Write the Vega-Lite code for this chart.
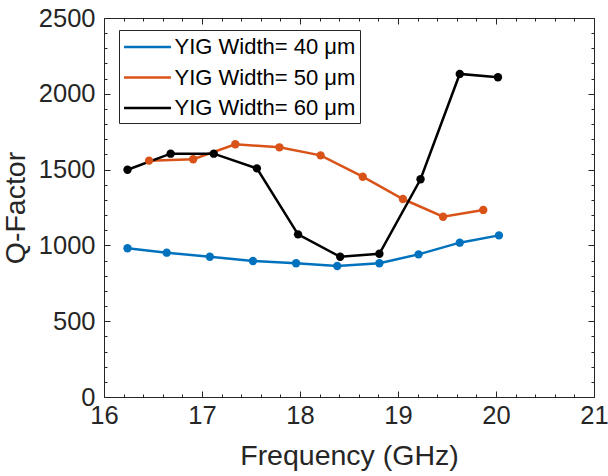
{
  "$schema": "https://vega.github.io/schema/vega-lite/v6.json",
  "width": 490,
  "height": 379,
  "autosize": {"type": "none"},
  "padding": {"left": 104, "top": 18, "right": 14, "bottom": 79},
  "background": "white",
  "config": {
    "view": {"stroke": null},
    "font": "Liberation Sans",
    "axis": {
      "grid": false,
      "domainColor": "#262626",
      "tickColor": "#262626",
      "labelColor": "#262626",
      "titleColor": "#262626",
      "labelFont": "Liberation Sans",
      "titleFont": "Liberation Sans",
      "titleFontWeight": "normal",
      "labelFontSize": 25.5,
      "titleFontSize": 28.5
    },
    "legend": {"labelFont": "Liberation Sans"}
  },
  "data": {
    "values": [
      {"f": 16.24, "q": 981, "s": "YIG Width= 40 μm"},
      {"f": 16.64, "q": 952, "s": "YIG Width= 40 μm"},
      {"f": 17.08, "q": 925, "s": "YIG Width= 40 μm"},
      {"f": 17.52, "q": 897, "s": "YIG Width= 40 μm"},
      {"f": 17.96, "q": 882, "s": "YIG Width= 40 μm"},
      {"f": 18.38, "q": 864, "s": "YIG Width= 40 μm"},
      {"f": 18.81, "q": 882, "s": "YIG Width= 40 μm"},
      {"f": 19.21, "q": 941, "s": "YIG Width= 40 μm"},
      {"f": 19.63, "q": 1018, "s": "YIG Width= 40 μm"},
      {"f": 20.03, "q": 1066, "s": "YIG Width= 40 μm"},
      {"f": 16.46, "q": 1559, "s": "YIG Width= 50 μm"},
      {"f": 16.91, "q": 1568, "s": "YIG Width= 50 μm"},
      {"f": 17.34, "q": 1667, "s": "YIG Width= 50 μm"},
      {"f": 17.79, "q": 1647, "s": "YIG Width= 50 μm"},
      {"f": 18.21, "q": 1594, "s": "YIG Width= 50 μm"},
      {"f": 18.64, "q": 1453, "s": "YIG Width= 50 μm"},
      {"f": 19.05, "q": 1306, "s": "YIG Width= 50 μm"},
      {"f": 19.46, "q": 1189, "s": "YIG Width= 50 μm"},
      {"f": 19.87, "q": 1234, "s": "YIG Width= 50 μm"},
      {"f": 16.24, "q": 1499, "s": "YIG Width= 60 μm"},
      {"f": 16.68, "q": 1605, "s": "YIG Width= 60 μm"},
      {"f": 17.12, "q": 1605, "s": "YIG Width= 60 μm"},
      {"f": 17.56, "q": 1508, "s": "YIG Width= 60 μm"},
      {"f": 17.98, "q": 1073, "s": "YIG Width= 60 μm"},
      {"f": 18.41, "q": 925, "s": "YIG Width= 60 μm"},
      {"f": 18.81, "q": 945, "s": "YIG Width= 60 μm"},
      {"f": 19.23, "q": 1436, "s": "YIG Width= 60 μm"},
      {"f": 19.63, "q": 2131, "s": "YIG Width= 60 μm"},
      {"f": 20.02, "q": 2109, "s": "YIG Width= 60 μm"}
    ]
  },
  "encoding": {
    "color": {
      "field": "s",
      "type": "nominal",
      "scale": {
        "domain": ["YIG Width= 40 μm", "YIG Width= 50 μm", "YIG Width= 60 μm"],
        "range": ["#0072BD", "#D95319", "#000000"]
      },
      "legend": {
        "title": null,
        "orient": "none",
        "legendX": 15,
        "legendY": 12,
        "symbolType": "M-2.04,0H2.04",
        "symbolSize": 529,
        "symbolOffset": 11.5,
        "symbolStrokeWidth": 2.5,
        "labelFontSize": 22,
        "labelColor": "#000000",
        "labelLimit": 400,
        "labelOffset": 14,
        "rowPadding": 6.5,
        "padding": 4,
        "strokeColor": "#262626",
        "fillColor": "white"
      }
    }
  },
  "layer": [
    {
      "mark": {"type": "line", "strokeWidth": 2.5},
      "encoding": {
        "x": {
          "field": "f", "type": "quantitative",
          "scale": {"domain": [16, 21], "nice": false, "zero": false},
          "title": "Frequency (GHz)",
          "axis": {
            "orient": "bottom",
            "values": [16,16.2,16.4,16.6,16.8,17,17.2,17.4,17.6,17.8,18,18.2,18.4,18.6,18.8,19,19.2,19.4,19.6,19.8,20,20.2,20.4,20.6,20.8,21],
            "labelExpr": "datum.value % 1 === 0 ? format(datum.value, 'd') : ''",
            "tickSize": {"condition": {"test": "datum.value % 1 === 0", "value": -6}, "value": -3},
            "labelPadding": 12,
            "labelFlush": false,
            "labelOverlap": false,
            "titlePadding": 10
          }
        },
        "y": {
          "field": "q", "type": "quantitative",
          "scale": {"domain": [0, 2500], "nice": false},
          "title": "Q-Factor",
          "axis": {
            "orient": "left",
            "values": [0,100,200,300,400,500,600,700,800,900,1000,1100,1200,1300,1400,1500,1600,1700,1800,1900,2000,2100,2200,2300,2400,2500],
            "labelExpr": "datum.value % 500 === 0 ? format(datum.value, 'd') : ''",
            "tickSize": {"condition": {"test": "datum.value % 500 === 0", "value": -6}, "value": -3},
            "labelPadding": 15,
            "labelFlush": false,
            "labelOverlap": false,
            "titlePadding": 8
          }
        }
      }
    },
    {
      "mark": {"type": "point", "filled": true, "size": 70, "opacity": 1},
      "encoding": {
        "x": {
          "field": "f", "type": "quantitative",
          "axis": {
            "orient": "top",
            "values": [16,16.2,16.4,16.6,16.8,17,17.2,17.4,17.6,17.8,18,18.2,18.4,18.6,18.8,19,19.2,19.4,19.6,19.8,20,20.2,20.4,20.6,20.8,21],
            "labels": false,
            "title": null,
            "tickSize": {"condition": {"test": "datum.value % 1 === 0", "value": -6}, "value": -3}
          }
        },
        "y": {
          "field": "q", "type": "quantitative",
          "axis": {
            "orient": "right",
            "values": [0,100,200,300,400,500,600,700,800,900,1000,1100,1200,1300,1400,1500,1600,1700,1800,1900,2000,2100,2200,2300,2400,2500],
            "labels": false,
            "title": null,
            "tickSize": {"condition": {"test": "datum.value % 500 === 0", "value": -6}, "value": -3}
          }
        }
      }
    }
  ],
  "resolve": {"axis": {"x": "independent", "y": "independent"}}
}
